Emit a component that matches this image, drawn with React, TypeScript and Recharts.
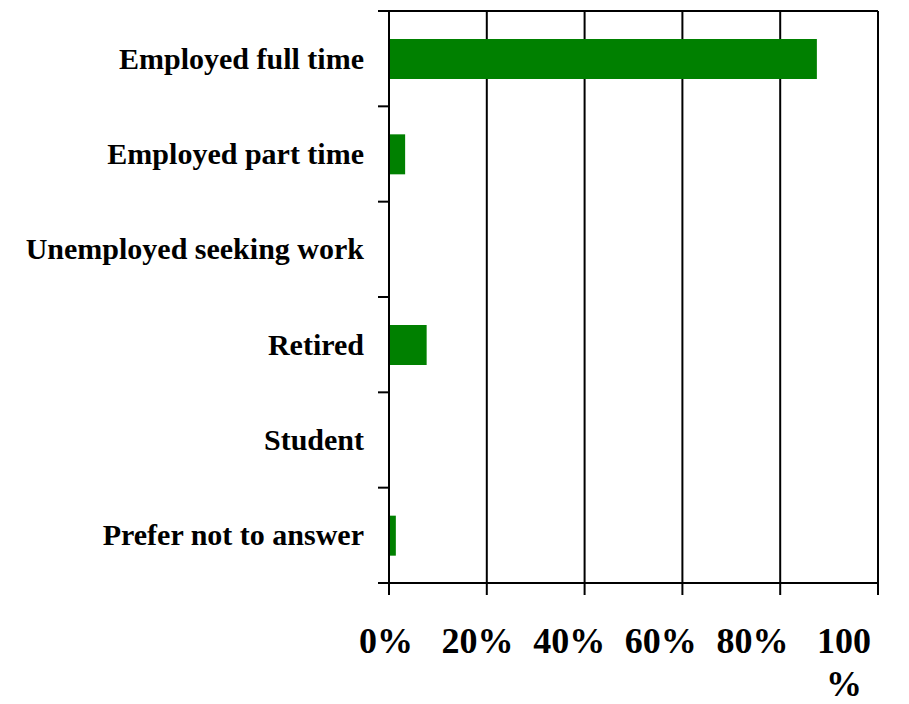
import { BarChart, Bar, XAxis, YAxis, CartesianGrid } from 'recharts';

const categories = [
    'Employed full time',
    'Employed part time',
    'Unemployed seeking work',
    'Retired',
    'Student',
    'Prefer not to answer',
];
const shares = [87.5, 3.3, 0, 7.7, 0, 1.4];
const percentTicks = [0, 20, 40, 60, 80, 100];

const data = categories.map((name, i) => ({ name, share: shares[i] }));

const FONT = '"Liberation Serif", "Times New Roman", serif';

// category labels plus the little tick marks sitting on band boundaries
function CategoryTick(props: any) {
    const { x, y, payload, index, height, visibleTicksCount } = props;
    const half = payload.offset || height / visibleTicksCount / 2;
    const last = index === visibleTicksCount - 1;
    return (
        <g>
            <line x1={x - 11} x2={x} y1={y - half} y2={y - half} stroke="#000" strokeWidth={2} />
            {last && <line x1={x - 11} x2={x} y1={y + half} y2={y + half} stroke="#000" strokeWidth={2} />}
            <text x={x - 25} y={y} dy={10} textAnchor="end" fontFamily={FONT} fontWeight="bold" fontSize={30} fill="#000">
                {payload.value}
            </text>
        </g>
    );
}

function PercentTick(props: any) {
    const { x, y, payload } = props;
    const v = payload.value;
    // Excel squeezes the labels a bit to the left
    const cx = x - 3 - v * 0.31;
    if (v === 100) {
        return (
            <text x={cx} y={y + 58} textAnchor="middle" fontFamily={FONT} fontWeight="bold" fontSize={36} fill="#000">
                <tspan x={cx}>100</tspan>
                <tspan x={cx} dy={43}>%</tspan>
            </text>
        );
    }
    return (
        <text x={cx} y={y + 58} textAnchor="middle" fontFamily={FONT} fontWeight="bold" fontSize={36} fill="#000">
            {v}%
        </text>
    );
}

export default function App() {
    return (
        <div style={{ position: 'absolute', left: 0, top: 0, background: '#fff' }}>
            <BarChart
                width={909}
                height={704}
                data={data}
                layout="vertical"
                margin={{ top: 11, right: 31, bottom: 0, left: 0 }}
                barCategoryGap={0}
            >
                <CartesianGrid
                    stroke="#000"
                    strokeWidth={2}
                    horizontalCoordinatesGenerator={({ offset }: any) => [offset.top]}
                />
                <XAxis
                    type="number"
                    domain={[0, 100]}
                    ticks={percentTicks}
                    interval={0}
                    height={121}
                    axisLine={{ stroke: '#000', strokeWidth: 2 }}
                    tickLine={{ stroke: '#000', strokeWidth: 2 }}
                    tickSize={12}
                    tickMargin={0}
                    tick={<PercentTick />}
                />
                <YAxis
                    type="category"
                    dataKey="name"
                    width={389}
                    axisLine={{ stroke: '#000', strokeWidth: 2 }}
                    tickLine={false}
                    tickSize={0}
                    tickMargin={0}
                    tick={<CategoryTick />}
                    interval={0}
                />
                <Bar dataKey="share" fill="#008000" barSize={40} isAnimationActive={false} />
            </BarChart>
        </div>
    );
}
